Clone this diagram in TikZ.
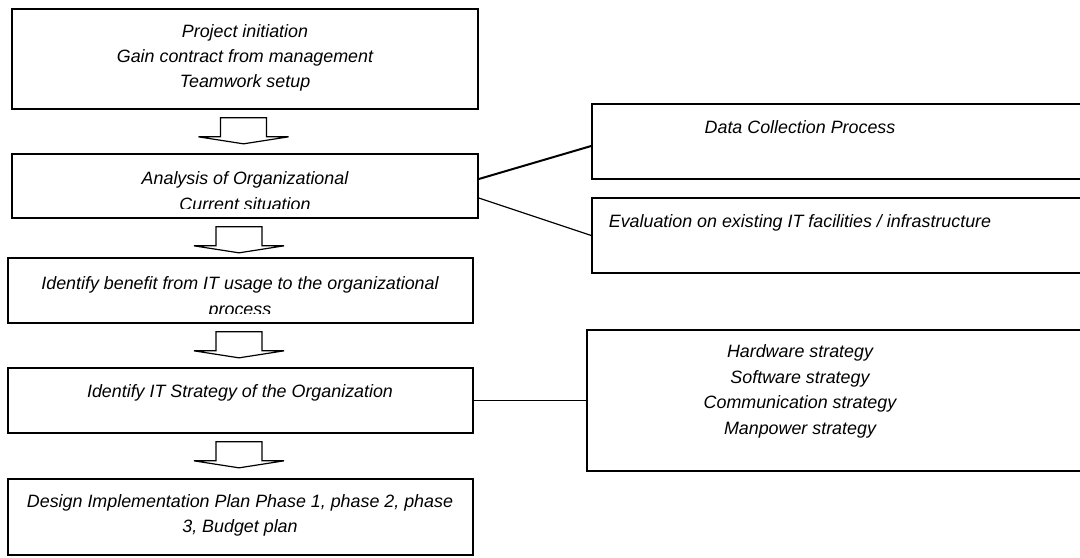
\documentclass[tikz,border=0pt]{standalone}
\usepackage{fontspec}
\setmainfont{Liberation Sans}
\usetikzlibrary{calc,positioning}

\begin{document}
\begin{tikzpicture}[x=0.75pt,y=-0.75pt]
                      \tikzstyle{box}=[rectangle,draw=black,line width=1.25pt,inner sep=0pt]
                      \tikzstyle{txt}=[align=center,inner sep=0pt,font=\fontsize{13.4pt}{18.9pt}\selectfont\itshape]
                      \tikzstyle{blockarrow}=[draw=black,line width=0.9pt,line join=miter]
                      \clip (0,0) rectangle (1080,557);
                      % left column
                      \node[box,minimum width=349.5pt,minimum height=75pt] (init) at (245,59) {};
                      \node[box,minimum width=349.5pt,minimum height=48pt] (analysis) at (245,186) {};
                      \node[box,minimum width=348.75pt,minimum height=48.75pt] (benefit) at (240.5,290.5) {};
                      \node[box,minimum width=348.75pt,minimum height=48.75pt] (strategy) at (240.5,400.5) {};
                      \node[box,minimum width=348.75pt,minimum height=57pt] (plan) at (240.5,517) {};
                      % right column
                      \node[box,minimum width=381pt,minimum height=56.25pt] (data) at (846,141.5) {};
                      \node[box,minimum width=381pt,minimum height=56.25pt] (eval) at (846,235.5) {};
                      \node[box,minimum width=384.75pt,minimum height=105.75pt] (parts) at (843.5,400.5) {};
                      % texts
                      \node[txt] (initText) at (245,58) {Project initiation\\Gain contract from management\\Teamwork setup};
                      \begin{scope}
                        \clip ($(analysis.south west)+(1,-10)$) rectangle (analysis.north east);
                        \node[txt,font=\fontsize{13.4pt}{19.5pt}\selectfont\itshape] (analysisText) at (245,191) {Analysis of Organizational\\Current situation};
                      \end{scope}
                      \begin{scope}
                        \clip ($(benefit.south west)+(1,-10)$) rectangle (benefit.north east);
                        \node[txt,font=\fontsize{13.4pt}{20pt}\selectfont\itshape] (benefitText) at (240,298) {Identify benefit from IT usage to the organizational\\process};
                      \end{scope}
                      \node[txt] (strategyText) at (240,393) {Identify IT Strategy of the Organization};
                      \node[txt] (planText) at (240,515) {Design Implementation Plan Phase 1, phase 2, phase\\3, Budget plan};
                      \node[txt] (dataText) at (800,127) {Data Collection Process};
                      \node[txt] (evalText) at (800,223) {Evaluation on existing IT facilities / infrastructure};
                      \node[txt,font=\fontsize{13.4pt}{19.3pt}\selectfont\itshape] (partsText) at (800,391.5) {Hardware strategy\\Software strategy\\Communication strategy\\Manpower strategy};
                      % block arrows
                      \foreach \a/\b in {init/analysis,analysis/benefit,benefit/strategy,strategy/plan}
                        \draw[blockarrow] ($(\b.north |- \a.south)+(-24.5,8)$) -- ++(46,0) -- ++(0,19) -- ++(22,0) -- ++(-45,7) -- ++(-45,-7) -- ++(22,0) -- cycle;
                      % links
                      \draw[line width=1.5pt] ($(analysis.east)+(0,-7)$) -- ($(data.west)+(0,4.5)$);
                      \draw[line width=0.9pt] ($(analysis.east)+(0,12)$) -- (eval.west);
                      \draw[line width=1pt] (strategy.east) -- (parts.west);
                  \end{tikzpicture}
\end{document}
